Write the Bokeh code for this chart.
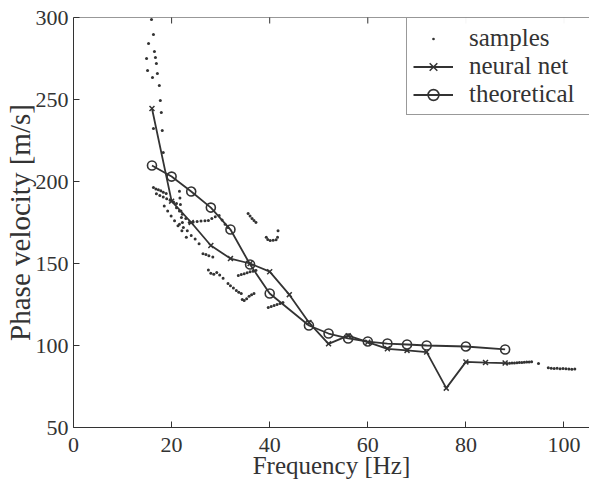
import math
from bokeh.plotting import figure
from bokeh.models import FixedTicker, Range1d, Legend, LegendItem, Span
from bokeh.embed import file_html
from bokeh.resources import INLINE

# ---------------- data ----------------
x_ticks = [0, 20, 40, 60, 80, 100]
y_ticks = [50, 100, 150, 200, 250, 300]

theo_x = [16, 20, 24, 28, 32, 36, 40, 48, 52, 56, 60, 64, 68, 72, 80, 88]
theo_y = [209.8, 203.0, 193.9, 184.1, 170.7, 149.4, 131.7, 112.2, 107.3,
          104.3, 102.4, 101.2, 100.6, 100.0, 99.4, 97.6]

nn_x = [16, 20, 24, 28, 32, 36, 40, 44, 48, 52, 56, 60, 64, 68, 72, 76, 80, 84, 88]
nn_y = [244.5, 188.0, 175.0, 161.0, 153.0, 150.0, 145.0, 131.0, 114.0, 101.0,
        106.0, 102.0, 98.0, 97.0, 96.0, 74.0, 90.0, 89.6, 89.3]

samples_x = [
    15.9, 16.3, 15.3, 16.5, 14.9, 16.7, 16.9, 15.1, 17.1, 16.1, 17.5, 17.7, 17.9, 16.3, 18.1, 18.3,
    16.3, 16.8, 17.3, 17.8, 18.3, 18.9,
    16.9, 17.6, 18.3, 19.0, 19.7, 20.4, 21.0,
    21.6, 21.7, 21.8, 21.9, 22.0, 22.2,
    21.6, 22.4, 23.2, 24.0, 24.8, 25.6,
    18.5, 19.2, 19.9, 20.6, 21.3, 22.1, 23.0,
    21.0, 21.6, 22.2, 22.9, 23.6, 24.4, 25.2, 26.0, 26.8, 27.5, 28.2, 28.9, 29.7, 30.3, 30.9, 31.5,
    26.4, 27.0, 27.6, 28.4,
    27.5, 28.0, 28.6, 29.2, 29.8, 30.5,
    31.5, 32.0, 32.6, 33.2, 33.7, 34.2,
    33.6, 34.2, 34.8, 35.4, 36.0, 36.6, 37.2,
    34.4, 34.8, 35.3, 35.8, 36.3, 36.8,
    39.7, 40.3, 40.9, 41.5, 42.1, 42.7,
    35.6, 36.0, 36.4, 36.8, 37.2,
    39.3, 39.6, 40.1, 40.7, 41.3, 41.6, 41.7,
    88.4, 88.9, 89.4, 89.9, 90.4, 90.9, 91.4, 91.9, 92.4, 92.9, 93.4, 94.8,
    96.8, 97.4, 98.0, 98.6, 99.2, 99.8, 100.4, 101.0, 101.6, 102.2,
]
samples_y = [
    298.8, 289.6, 284.1, 279.3, 275.0, 275.6, 272.0, 267.7, 265.9, 263.4, 258.5, 249.4, 242.1, 232.3, 231.1, 217.7,
    196.3, 195.5, 195.0, 194.3, 193.5, 192.7,
    192.5, 191.5, 190.5, 189.5, 188.5, 187.5, 186.6,
    194.0, 190.0, 186.0, 182.0, 178.0, 175.0,
    174.0, 172.0, 170.0, 167.0, 165.0, 162.0,
    185.0, 182.0, 179.0, 176.0, 173.0, 170.0, 166.0,
    184.0, 182.0, 180.0, 177.5, 175.0, 175.3, 175.6, 175.9, 176.1, 176.2, 177.5, 178.5, 179.3, 176.5, 174.0, 172.0,
    156.0, 155.5, 154.8, 153.9,
    146.0, 144.0, 143.5, 144.5, 143.0, 141.0,
    137.8, 136.5, 135.0, 133.5, 132.5, 131.7,
    142.7, 143.3, 143.8, 144.3, 144.9, 145.3, 145.7,
    128.0, 127.5, 128.5, 130.0, 131.0, 131.7,
    123.2, 123.8, 124.4, 125.0, 125.6, 126.2,
    180.5, 179.0, 177.5, 176.2, 175.0,
    166.0, 164.6, 164.0, 164.2, 164.5, 166.0, 170.0,
    89.1, 89.2, 89.3, 89.4, 89.5, 89.6, 89.7, 89.8, 89.9, 90.0, 90.1, 89.0,
    86.5, 86.2, 86.0, 86.2, 85.8, 86.0, 85.8, 85.6, 85.5, 85.6,
]

# ---------------- styling ----------------
INK = "#333333"
FONT = "Liberation Serif"

p = figure(width=589, height=482, output_backend="svg", toolbar_location=None,
           x_range=Range1d(0, 105.2), y_range=Range1d(y_ticks[0], y_ticks[-1]),
           min_border_left=72, min_border_right=0, min_border_top=17, min_border_bottom=55,
           x_axis_label="Frequency [Hz]", y_axis_label="Phase velocity [m/s]")
p.outline_line_color = None
p.grid.visible = False
p.background_fill_color = "white"
p.border_fill_color = "white"


def style_axis(ax, ticks):
    ax.ticker = FixedTicker(ticks=ticks)
    ax.major_tick_in = 6
    ax.major_tick_out = 0
    ax.minor_tick_in = 0
    ax.minor_tick_out = 0
    ax.axis_line_color = INK
    ax.axis_line_width = 1
    ax.major_tick_line_color = INK
    ax.major_label_text_font = FONT
    ax.major_label_text_color = INK
    ax.major_label_text_font_size = "22px"
    ax.axis_label_text_font = FONT
    ax.axis_label_text_font_style = "normal"
    ax.axis_label_text_color = INK


style_axis(p.xaxis[0], x_ticks)
style_axis(p.yaxis[0], y_ticks)
p.xaxis[0].major_label_standoff = 10
p.xaxis[0].axis_label_standoff = -3
p.xaxis[0].axis_label_text_font_size = "25px"
p.yaxis[0].major_label_standoff = 5
p.yaxis[0].axis_label_standoff = -3
p.yaxis[0].axis_label_text_font_size = "29px"

# top border of the box with inward ticks
p.add_layout(Span(location=y_ticks[-1], dimension="width", line_color=INK, line_width=1))
p.scatter(x_ticks[1:], [y_ticks[-1]] * (len(x_ticks) - 1), marker="dash", angle=math.pi / 2,
          size=12, line_color=INK, line_width=1)

r_s = p.scatter(samples_x, samples_y, marker="dot", size=12, color=INK)
r_nl = p.line(nn_x, nn_y, line_width=1.8, color=INK)
r_nm = p.scatter(nn_x, nn_y, marker="x", size=7, line_width=1.5, line_color=INK)
r_tl = p.line(theo_x, theo_y, line_width=1.8, color=INK)
r_tm = p.scatter(theo_x, theo_y, marker="circle", size=9, fill_color=None,
                 line_color=INK, line_width=1.6)

legend = Legend(items=[
    LegendItem(label="samples", renderers=[r_s]),
    LegendItem(label="neural net", renderers=[r_nl, r_nm]),
    LegendItem(label="theoretical", renderers=[r_tl, r_tm]),
], location=(333, 312))
legend.label_text_font = FONT
legend.label_text_font_size = "25px"
legend.label_text_color = INK
legend.border_line_color = INK
legend.border_line_width = 1
legend.padding = 6
legend.spacing = 0
legend.margin = 0
legend.glyph_width = 40
legend.glyph_height = 27
legend.label_standoff = 16
legend.label_height = 27
legend.label_width = 140
p.add_layout(legend)

open("out.html", "w").write(file_html(p, INLINE))
